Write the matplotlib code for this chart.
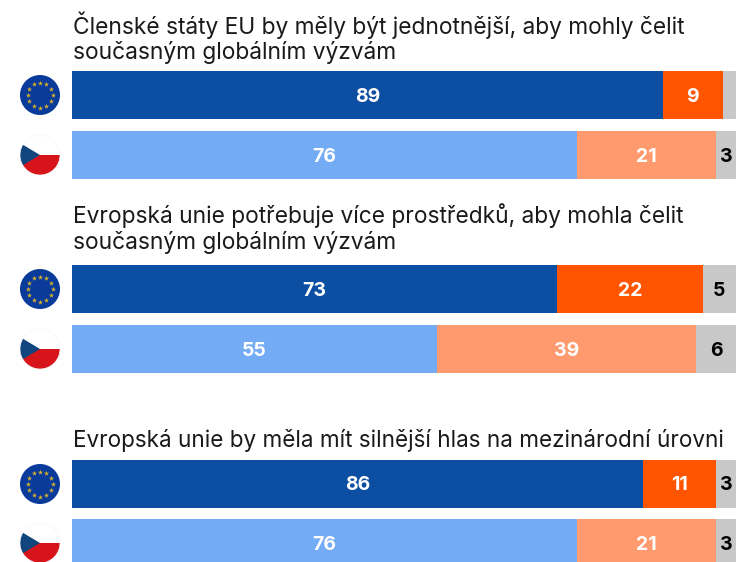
import numpy as np
import matplotlib.pyplot as plt
from matplotlib.patches import Circle, Polygon, Rectangle

plt.rcParams['font.family'] = ['Inter', 'DejaVu Sans']

titles = ['Členské státy EU by měly být jednotnější, aby mohly čelit\nsoučasným globálním výzvám',
          'Evropská unie potřebuje více prostředků, aby mohla čelit\nsoučasným globálním výzvám',
          'Evropská unie by měla mít silnější hlas na mezinárodní úrovni']
agree_eu = [89, 73, 86]
disagree_eu = [9, 22, 11]
dk_eu = [2, 5, 3]
agree_cz = [76, 55, 76]
disagree_cz = [21, 39, 21]
dk_cz = [3, 6, 3]

# rozlozeni v pixelech
W, H = 739, 562
left = 72
px_per_unit = 6.64
bar_h = 48
tops_eu = [71, 265, 460]
tops_cz = [131, 325, 519]
title_y = [37.5, 228.5, 441]

fig = plt.figure(figsize=(W / 100, H / 100), dpi=100)
ax = fig.add_axes([0, 0, 1, 1])
ax.set_xlim(-left / px_per_unit, (W - left) / px_per_unit)
ax.set_ylim(H, 0)
ax.axis('off')

# druha osa jen pro vlajky, v pixelech
flag_ax = fig.add_axes([0, 0, 1, 1])
flag_ax.set_xlim(0, W)
flag_ax.set_ylim(H, 0)
flag_ax.axis('off')
flag_ax.patch.set_alpha(0)


def stacked_bar(top, vals, colors, txt_colors):
    start = 0
    y = top + bar_h / 2
    for v, c, tc in zip(vals, colors, txt_colors):
        ax.barh(y, v, left=start, height=bar_h, color=c, linewidth=0)
        if v >= 3:
            ax.text(start + v / 2, y - 0.5, str(v), color=tc, ha='center', va='center_baseline',
                    fontsize=14, fontweight='bold')
        start += v


def eu_flag(cx, cy, r=20):
    flag_ax.add_patch(Circle((cx, cy), r, color='#0A3A9A', lw=0))
    a = np.arange(12) * np.pi / 6
    flag_ax.scatter(cx + 12.5 * np.cos(a), cy + 12.5 * np.sin(a), marker='*', s=15,
                    color='#D8B22A', linewidths=0, zorder=3)


def cz_flag(cx, cy, r=20):
    clip = Circle((cx, cy), r, transform=flag_ax.transData)
    parts = [Rectangle((cx - r, cy - r), 2 * r, r, color='white', lw=0),
             Rectangle((cx - r, cy), 2 * r, r, color='#D7141A', lw=0),
             Polygon([(cx - r, cy - 12), (cx, cy), (cx - r, cy + 12)], color='#11457E', lw=0)]
    for p in parts:
        flag_ax.add_patch(p)
        p.set_clip_path(clip)
    flag_ax.add_patch(Circle((cx, cy), r, fill=False, ec='#F6F6F6', lw=0.5))


for i in range(3):
    ax.text(0.1, title_y[i], titles[i], ha='left', va='center',
            fontsize=16.4 if i < 2 else 16.2, color='#1A1A1A', linespacing=1.12)
    stacked_bar(tops_eu[i], [agree_eu[i], disagree_eu[i], dk_eu[i]],
                ['#0B4EA2', '#FF5500', '#C8C8C8'], ['white', 'white', 'black'])
    stacked_bar(tops_cz[i], [agree_cz[i], disagree_cz[i], dk_cz[i]],
                ['#74ABF5', '#FF9A6E', '#C8C8C8'], ['white', 'white', 'black'])
    eu_flag(40, tops_eu[i] + bar_h / 2)
    cz_flag(40, tops_cz[i] + bar_h / 2)

fig.savefig('out.png', dpi=100)
